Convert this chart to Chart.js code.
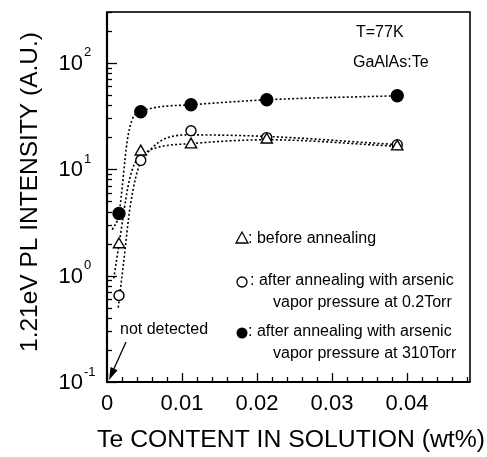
<!DOCTYPE html>
<html><head><meta charset="utf-8">
<script src="https://cdn.jsdelivr.net/npm/chart.js@4"></script>
<style>html,body{margin:0;padding:0;background:#fff}#wrap{width:487px;height:457px;position:relative}</style>
</head><body><div id="wrap"><canvas id="c"></canvas></div>
<script>
// ---- data ----
const xTicks = [0, 0.01, 0.02, 0.03, 0.04];
const xTickLabels = ['0', '0.01', '0.02', '0.03', '0.04'];
const yTicks = [0.1, 1, 10, 100];
const yTickExps = ['-1', '0', '1', '2'];

const teContent = [0.0016, 0.0045, 0.0112, 0.0213, 0.0387];
const beforeAnneal = [1.96, 14.6, 17.0, 18.9, 16.3];
const anneal02Torr = [0.65, 12.1, 23.0, 19.8, 17.0];
const anneal310Torr = [3.84, 34.7, 40.3, 44.9, 49.0];

// dotted fitted curves
const fitBefore_x = [0.0009, 0.0016, 0.0030, 0.0045, 0.0112, 0.0213, 0.0387];
const fitBefore_y = [0.94, 1.96, 8.0, 13.5, 17.4, 18.9, 16.4];
const fit02_x = [0.0015, 0.0022, 0.0031, 0.0045, 0.0112, 0.0213, 0.0387];
const fit02_y = [0.50, 1.3, 4.5, 11.5, 21.0, 20.3, 17.0];
const fit310_x = [0.0007, 0.0016, 0.0027, 0.0033, 0.0045, 0.0112, 0.0213, 0.0387];
const fit310_y = [2.7, 3.84, 18.5, 28.5, 34.7, 40.3, 44.9, 49.0];

const FONT = '"Liberation Sans", Arial, Helvetica, sans-serif';

const pts = (xs, ys) => xs.map((x, i) => ({x: x, y: ys[i]}));
const curve = (xs, ys) => ({
  type: 'line', data: pts(xs, ys), borderColor: '#000', borderWidth: 1.6,
  borderDash: [2, 2.2], pointRadius: 0, cubicInterpolationMode: 'monotone', fill: false, order: 2
});
const marks = (ys, style, bg, r) => ({
  type: 'scatter', data: pts(teContent, ys), pointStyle: style, pointRadius: r,
  pointBackgroundColor: bg, pointBorderColor: '#000', pointBorderWidth: 1.4, order: 1
});

const decor = {
  id: 'decor',
  afterDraw(chart) {
    const ctx = chart.ctx, a = chart.chartArea;
    const xs = chart.scales.x, ys = chart.scales.y;
    ctx.save();
    ctx.strokeStyle = '#000'; ctx.fillStyle = '#000';
    // frame
    ctx.lineWidth = 1.6;
    ctx.strokeRect(a.left, a.top, a.right - a.left, a.bottom - a.top);
    ctx.lineWidth = 2.2;
    ctx.beginPath(); ctx.moveTo(a.left, a.top); ctx.lineTo(a.left, a.bottom); ctx.lineTo(a.right, a.bottom); ctx.stroke();
    // x ticks (inward)
    ctx.lineWidth = 1.3;
    for (let v = 0; v <= xs.max + 1e-9; v += 0.002) {
      const px = Math.round(xs.getPixelForValue(v)) + 0.5;
      const major = Math.abs(v / 0.01 - Math.round(v / 0.01)) < 1e-6;
      ctx.beginPath(); ctx.moveTo(px, a.bottom); ctx.lineTo(px, a.bottom - (major ? 9 : 5)); ctx.stroke();
    }
    // y ticks (inward)
    for (let d = -1; d <= 2; d++) {
      for (let m = 1; m <= 9; m++) {
        const v = m * Math.pow(10, d);
        if (v < ys.min - 1e-12 || v > ys.max) continue;
        const py = Math.round(ys.getPixelForValue(v)) + 0.5;
        ctx.beginPath(); ctx.moveTo(a.left, py); ctx.lineTo(a.left + (m === 1 ? 10 : 5), py); ctx.stroke();
      }
    }
    // x tick labels
    ctx.font = '22px ' + FONT; ctx.textAlign = 'center'; ctx.textBaseline = 'middle';
    xTicks.forEach((v, i) => ctx.fillText(xTickLabels[i], xs.getPixelForValue(v), 404));
    // y tick labels 10^n
    yTicks.forEach((v, i) => {
      const py = ys.getPixelForValue(v);
      ctx.font = '22px ' + FONT; ctx.textAlign = 'right'; ctx.textBaseline = 'middle';
      ctx.fillText('10', 83, py + 1);
      ctx.font = '13px ' + FONT; ctx.textAlign = 'left';
      ctx.fillText(yTickExps[i], 84, py - 10);
    });
    // axis titles
    ctx.textAlign = 'center'; ctx.textBaseline = 'middle';
    const xt = 'Te CONTENT IN SOLUTION (wt%)';
    ctx.font = '22px ' + FONT;
    let w = ctx.measureText(xt).width;
    ctx.font = (22 * 388 / w).toFixed(2) + 'px ' + FONT;
    ctx.fillText(xt, 291, 440);
    const yt = '1.21eV PL INTENSITY (A.U.)';
    ctx.font = '22px ' + FONT;
    w = ctx.measureText(yt).width;
    ctx.save(); ctx.translate(30, 192); ctx.rotate(-Math.PI / 2);
    ctx.font = (22 * 320 / w).toFixed(2) + 'px ' + FONT;
    ctx.fillText(yt, 0, 0); ctx.restore();
    // annotations
    ctx.font = '16px ' + FONT; ctx.textAlign = 'left';
    ctx.fillText('T=77K', 356, 33);
    ctx.fillText('GaAlAs:Te', 353, 63);
    ctx.fillText('not detected', 120, 330);
    // arrow to (0, 0.1)
    const tx = xs.getPixelForValue(0) + 2, ty = ys.getPixelForValue(0.1) - 2;
    ctx.lineWidth = 1.3;
    ctx.beginPath(); ctx.moveTo(126, 342); ctx.lineTo(tx + 3, ty - 7); ctx.stroke();
    const ang = Math.atan2(ty - 342, tx - 126);
    ctx.beginPath(); ctx.moveTo(tx, ty);
    ctx.lineTo(tx - 13 * Math.cos(ang - 0.3), ty - 13 * Math.sin(ang - 0.3));
    ctx.lineTo(tx - 13 * Math.cos(ang + 0.3), ty - 13 * Math.sin(ang + 0.3));
    ctx.closePath(); ctx.fill();
    // legend
    ctx.lineWidth = 1.3;
    const sx = 242;
    // triangle
    ctx.beginPath(); ctx.moveTo(sx, 232); ctx.lineTo(sx - 6, 243); ctx.lineTo(sx + 6, 243); ctx.closePath(); ctx.stroke();
    ctx.fillText(': before annealing', 248, 239);
    ctx.beginPath(); ctx.arc(sx, 282, 5, 0, 2 * Math.PI); ctx.stroke();
    ctx.fillText(': after annealing with arsenic', 250, 281);
    ctx.fillText('vapor pressure at 0.2Torr', 273, 303);
    ctx.beginPath(); ctx.arc(sx, 333, 5.5, 0, 2 * Math.PI); ctx.fill();
    ctx.fillText(': after annealing with arsenic', 248, 332);
    ctx.fillText('vapor pressure at 310Torr', 273, 354);
    ctx.restore();
  }
};

new Chart(document.getElementById('c'), {
  data: {
    datasets: [
      curve(fitBefore_x, fitBefore_y),
      curve(fit02_x, fit02_y),
      curve(fit310_x, fit310_y),
      marks(beforeAnneal, 'triangle', '#fff', 6.5),
      marks(anneal02Torr, 'circle', '#fff', 5),
      marks(anneal310Torr, 'circle', '#000', 6)
    ]
  },
  options: {
    responsive: true, maintainAspectRatio: false, animation: false,
    layout: {padding: {left: 107, right: 17, top: 12, bottom: 75}},
    plugins: {legend: {display: false}, tooltip: {enabled: false}},
    scales: {
      x: {type: 'linear', min: 0, max: 0.0484, display: true,
          grid: {display: false}, border: {display: false}, ticks: {display: false},
          afterFit(s) { s.height = 0; }},
      y: {type: 'logarithmic', min: 0.1, max: 300, display: true,
          grid: {display: false}, border: {display: false}, ticks: {display: false},
          afterFit(s) { s.width = 0; }}
    }
  },
  plugins: [decor]
});
</script></body></html>
